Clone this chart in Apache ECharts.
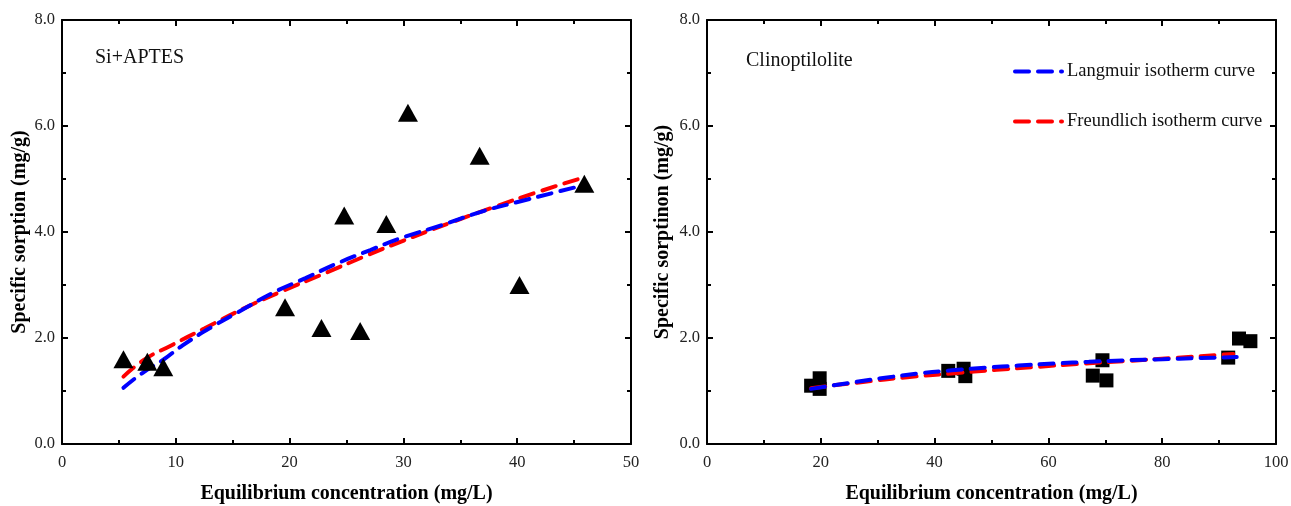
<!DOCTYPE html>
<html>
<head>
<meta charset="utf-8">
<script src="https://cdn.jsdelivr.net/npm/echarts@6/dist/echarts.min.js"></script>
<style>
html,body{margin:0;padding:0;background:#fff;}
#chart{width:1291px;height:506px;}
</style>
</head>
<body>
<div id="chart"></div>
<script>
// ---- Left panel: Si+APTES ----
const siX = [5.4, 7.5, 8.9, 19.6, 22.8, 24.8, 26.2, 28.5, 30.4, 36.7, 40.2, 45.9];
const siY = [1.60, 1.55, 1.45, 2.58, 2.19, 4.31, 2.13, 4.15, 6.25, 5.44, 3.00, 4.91];
const siLangX = [5.4, 7.0, 8.9, 10.6, 13.1, 16.0, 18.6, 21.4, 24.1, 27.1, 29.6, 33.5, 37.1, 40.3, 43.2, 45.8];
const siLangY = [1.06, 1.33, 1.59, 1.86, 2.20, 2.55, 2.86, 3.13, 3.40, 3.66, 3.87, 4.14, 4.40, 4.58, 4.74, 4.88];
const siFreX = [5.4, 7.3, 9.6, 12.5, 16.0, 19.3, 23.2, 26.7, 29.8, 34.2, 38.1, 41.6, 45.7];
const siFreY = [1.27, 1.60, 1.86, 2.18, 2.56, 2.88, 3.23, 3.55, 3.82, 4.18, 4.48, 4.74, 5.02];

// ---- Right panel: Clinoptilolite ----
const clX = [18.3, 19.8, 19.8, 42.4, 45.1, 45.4, 67.8, 69.5, 70.2, 91.6, 93.5, 95.5];
const clY = [1.10, 1.24, 1.04, 1.38, 1.42, 1.28, 1.29, 1.58, 1.20, 1.63, 1.99, 1.94];
const clLangX = [18.3, 25.5, 31.3, 37.2, 43.0, 48.9, 54.7, 61.3, 67.1, 73.6, 80.1, 86.0, 93.1];
const clLangY = [1.04, 1.16, 1.25, 1.33, 1.39, 1.44, 1.48, 1.52, 1.55, 1.58, 1.60, 1.62, 1.64];
const clFreX = [18.3, 20.3, 27.4, 35.2, 43.0, 50.9, 57.3, 65.2, 74.3, 81.4, 89.9, 92.5];
const clFreY = [1.05, 1.08, 1.17, 1.26, 1.33, 1.40, 1.45, 1.51, 1.57, 1.62, 1.68, 1.70];

const leftXTicks = {min: 0, max: 50, interval: 10};
const rightXTicks = {min: 0, max: 100, interval: 20};
const yTicks = {min: 0, max: 8, interval: 2};

const xTitle = 'Equilibrium concentration (mg/L)';
const yTitleLeft = 'Specific sorption (mg/g)';
const yTitleRight = 'Specific sorptinon (mg/g)';
const panelLeft = 'Si+APTES';
const panelRight = 'Clinoptilolite';
const nameLang = 'Langmuir isotherm curve';
const nameFre = 'Freundlich isotherm curve';

const zip = (a, b) => a.map((v, i) => [v, b[i]]);
const FONT = "'Liberation Serif', 'Times New Roman', serif";

function axisCommon(extra) {
  return Object.assign({
    axisLine: {show: true, onZero: false, lineStyle: {color: '#000', width: 2}},
    axisTick: {show: true, inside: true, length: 6, lineStyle: {color: '#000', width: 2}},
    minorTick: {show: true, splitNumber: 2, length: 4, lineStyle: {color: '#000', width: 2}},
    splitLine: {show: false},
    axisLabel: {show: true, color: '#222', fontFamily: FONT, fontSize: 16.5, margin: 10},
  }, extra);
}

const grids = [
  {left: 62, top: 20, width: 569, height: 424, containLabel: false, outerBoundsMode: 'none'},
  {left: 707, top: 20, width: 569, height: 424, containLabel: false, outerBoundsMode: 'none'}
];

const titleStyle = {fontFamily: FONT, fontWeight: 'bold', fontSize: 20, color: '#000'};
const xAxes = [
  axisCommon({type: 'value', gridIndex: 0, position: 'bottom', ...leftXTicks,
    name: xTitle, nameLocation: 'middle', nameGap: 40, nameTextStyle: titleStyle}),
  axisCommon({type: 'value', gridIndex: 0, position: 'top', ...leftXTicks, axisLabel: {show: false}}),
  axisCommon({type: 'value', gridIndex: 1, position: 'bottom', ...rightXTicks,
    name: xTitle, nameLocation: 'middle', nameGap: 40, nameTextStyle: titleStyle}),
  axisCommon({type: 'value', gridIndex: 1, position: 'top', ...rightXTicks, axisLabel: {show: false}})
];
const yFmt = v => v.toFixed(1);
const yLabel = {show: true, color: '#222', fontFamily: FONT, fontSize: 16.5, margin: 7, formatter: yFmt};
const yAxes = [
  axisCommon({type: 'value', gridIndex: 0, position: 'left', ...yTicks, axisLabel: yLabel,
    name: yTitleLeft, nameLocation: 'middle', nameGap: 32, nameTextStyle: titleStyle}),
  axisCommon({type: 'value', gridIndex: 0, position: 'right', ...yTicks, axisLabel: {show: false}}),
  axisCommon({type: 'value', gridIndex: 1, position: 'left', ...yTicks, axisLabel: yLabel,
    name: yTitleRight, nameLocation: 'middle', nameGap: 34, nameTextStyle: titleStyle}),
  axisCommon({type: 'value', gridIndex: 1, position: 'right', ...yTicks, axisLabel: {show: false}})
];

const blueLine = {color: '#0000ff', width: 4, type: [14, 9], cap: 'round'};
const redLine = {color: '#ff0000', width: 4, type: [14, 9], cap: 'round'};

const series = [
  {type: 'line', name: nameLang, xAxisIndex: 0, yAxisIndex: 0, data: zip(siLangX, siLangY),
    smooth: true, symbol: 'none', lineStyle: blueLine, itemStyle: {color: '#0000ff'}, z: 3},
  {type: 'line', name: nameFre, xAxisIndex: 0, yAxisIndex: 0, data: zip(siFreX, siFreY),
    smooth: true, symbol: 'none', lineStyle: redLine, itemStyle: {color: '#ff0000'}, z: 2},
  {type: 'scatter', name: 'Si+APTES data', xAxisIndex: 0, yAxisIndex: 0, data: zip(siX, siY),
    symbol: 'triangle', symbolSize: [20, 18], itemStyle: {color: '#000', opacity: 1}, z: 4},
  {type: 'line', name: nameLang, xAxisIndex: 2, yAxisIndex: 2, data: zip(clLangX, clLangY),
    smooth: true, symbol: 'none', lineStyle: blueLine, itemStyle: {color: '#0000ff'}, z: 5},
  {type: 'line', name: nameFre, xAxisIndex: 2, yAxisIndex: 2, data: zip(clFreX, clFreY),
    smooth: true, symbol: 'none', lineStyle: redLine, itemStyle: {color: '#ff0000'}, z: 4},
  {type: 'scatter', name: 'Clinoptilolite data', xAxisIndex: 2, yAxisIndex: 2, data: zip(clX, clY),
    symbol: 'rect', symbolSize: 14, itemStyle: {color: '#000', opacity: 1}, z: 3}
];

const chart = echarts.init(document.getElementById('chart'), null, {renderer: 'canvas'});
chart.setOption({
  backgroundColor: '#fff',
  animation: false,
  grid: grids,
  xAxis: xAxes,
  yAxis: yAxes,
  legend: {
    show: true,
    data: [nameLang, nameFre],
    orient: 'vertical', left: 1008, top: 57, itemGap: 31,
    itemWidth: 47, itemHeight: 14,
    lineStyle: {width: 4},
    itemStyle: {color: 'rgba(0,0,0,0)', borderColor: 'rgba(0,0,0,0)', borderWidth: 0, opacity: 0},
    textStyle: {fontFamily: FONT, fontSize: 18.5, color: '#111'},
    selectedMode: false
  },
  graphic: [
    {type: 'text', left: 95, top: 48, style: {text: panelLeft, font: "20px 'Liberation Serif', serif", fill: '#111'}},
    {type: 'text', left: 746, top: 51, style: {text: panelRight, font: "20px 'Liberation Serif', serif", fill: '#111'}}
  ],
  series: series
});
</script>
</body>
</html>
